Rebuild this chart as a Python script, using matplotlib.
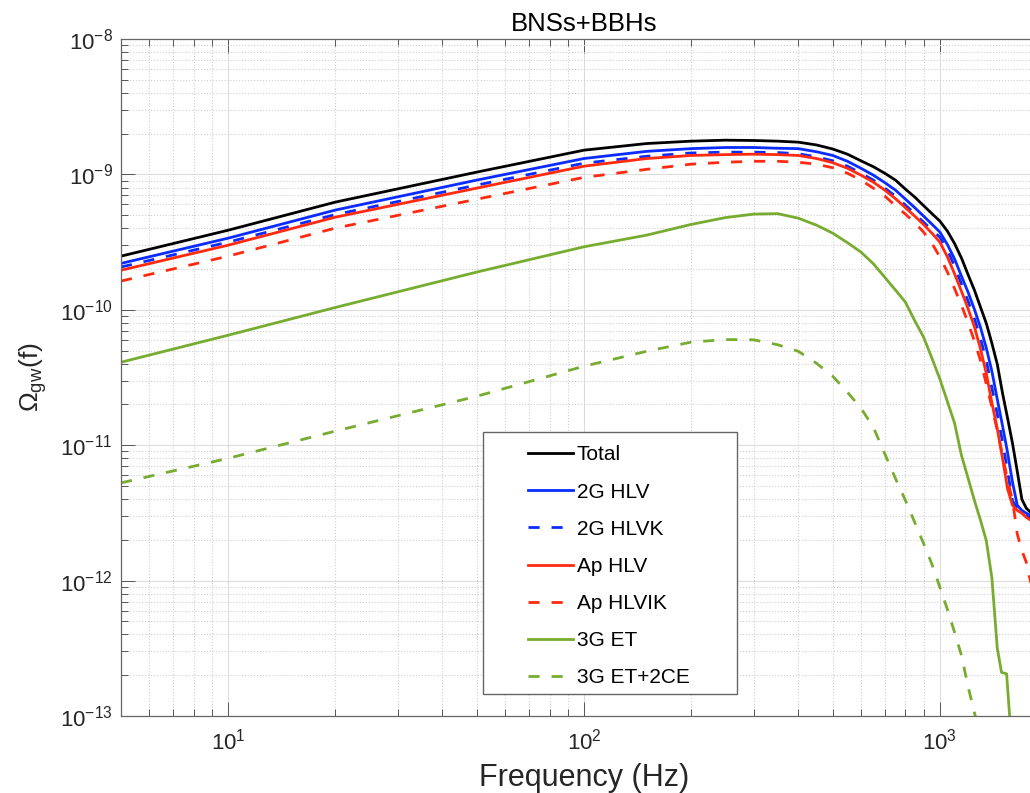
import matplotlib
matplotlib.use('Agg')
import matplotlib.pyplot as plt
from matplotlib.patches import Rectangle

plt.rcParams['font.family'] = ['Liberation Sans', 'DejaVu Sans']
plt.rcParams['mathtext.fontset'] = 'custom'
plt.rcParams['mathtext.rm'] = 'Liberation Sans'
plt.rcParams['mathtext.it'] = 'Liberation Sans:italic'
plt.rcParams['axes.unicode_minus'] = False

# values: frequency (Hz) and Omega_gw
freq = [5, 10, 20, 50, 100, 150, 200, 250, 300, 350, 400, 450, 500, 550, 600, 650, 700, 750,
        800, 850, 900, 950, 1000, 1050, 1100, 1150, 1200, 1250, 1300, 1350, 1400, 1450, 1500,
        1550, 1600, 1650, 1700, 1750, 1800, 2000]

total = [2.49e-10, 3.87e-10, 6.24e-10, 1.04e-9, 1.51e-9, 1.69e-9, 1.76e-9, 1.79e-9,
         1.78e-9, 1.76e-9, 1.73e-9, 1.65e-9, 1.54e-9, 1.41e-9, 1.26e-9, 1.14e-9, 1.02e-9,
         9.08e-10, 7.79e-10, 6.80e-10, 5.88e-10, 5.13e-10, 4.52e-10, 3.81e-10, 3.08e-10,
         2.41e-10, 1.82e-10, 1.40e-10, 1.05e-10, 7.96e-11, 5.66e-11, 3.96e-11, 2.42e-11,
         1.58e-11, 1.03e-11, 6.41e-12, 3.98e-12, 3.42e-12, 3.19e-12, 2.79e-12]
hlv_2g = [2.20e-10, 3.38e-10, 5.45e-10, 9.08e-10, 1.31e-9, 1.48e-9, 1.55e-9, 1.58e-9,
          1.58e-9, 1.56e-9, 1.55e-9, 1.47e-9, 1.38e-9, 1.25e-9, 1.11e-9, 9.88e-10, 8.70e-10,
          7.66e-10, 6.57e-10, 5.68e-10, 4.92e-10, 4.29e-10, 3.75e-10, 3.03e-10, 2.37e-10,
          1.77e-10, 1.35e-10, 1.01e-10, 7.44e-11, 5.24e-11, 3.52e-11, 2.18e-11, 1.39e-11,
          8.79e-12, 5.32e-12, 3.60e-12, 3.30e-12, 3.14e-12, 3.03e-12, 2.56e-12]
hlvk_2g = [2.07e-10, 3.16e-10, 5.05e-10, 8.34e-10, 1.21e-9, 1.36e-9, 1.44e-9, 1.46e-9,
           1.46e-9, 1.45e-9, 1.42e-9, 1.35e-9, 1.26e-9, 1.15e-9, 1.02e-9, 9.08e-10, 7.92e-10,
           6.91e-10, 5.93e-10, 5.13e-10, 4.44e-10, 3.88e-10, 3.44e-10, 2.76e-10, 2.10e-10,
           1.55e-10, 1.16e-10, 8.67e-11, 6.17e-11, 4.24e-11, 2.66e-11, 1.69e-11, 1.06e-11,
           6.41e-12, 3.88e-12, 3.42e-12, 3.19e-12, 3.03e-12, 2.88e-12, 2.43e-12]
hlv_ap = [1.96e-10, 3.00e-10, 4.83e-10, 7.92e-10, 1.15e-9, 1.31e-9, 1.38e-9, 1.40e-9,
          1.41e-9, 1.40e-9, 1.38e-9, 1.31e-9, 1.22e-9, 1.11e-9, 9.88e-10, 8.77e-10, 7.66e-10,
          6.62e-10, 5.68e-10, 4.92e-10, 4.26e-10, 3.68e-10, 3.16e-10, 2.46e-10, 1.84e-10,
          1.37e-10, 1.02e-10, 7.51e-11, 5.17e-11, 3.40e-11, 2.06e-11, 1.32e-11, 8.00e-12,
          4.75e-12, 3.60e-12, 3.30e-12, 3.14e-12, 2.93e-12, 2.79e-12, 2.35e-12]
hlvik_ap = [1.63e-10, 2.49e-10, 4.01e-10, 6.56e-10, 9.51e-10, 1.09e-9, 1.19e-9, 1.23e-9,
            1.25e-9, 1.25e-9, 1.23e-9, 1.19e-9, 1.12e-9, 1.02e-9, 9.08e-10, 7.92e-10, 6.91e-10,
            5.88e-10, 5.09e-10, 4.40e-10, 3.75e-10, 3.10e-10, 2.45e-10, 1.90e-10, 1.43e-10,
            1.08e-10, 8.01e-11, 5.90e-11, 4.24e-11, 2.84e-11, 1.91e-11, 1.29e-11, 8.42e-12,
            5.50e-12, 3.92e-12, 2.21e-12, 1.67e-12, 1.36e-12, 9.70e-13, 7.14e-13]

# third-generation curves
freq_et = [5, 10, 20, 50, 100, 150, 200, 250, 300, 350, 400, 450, 500, 550, 600, 650, 700, 750,
           800, 850, 900, 950, 1000, 1050, 1100, 1150, 1200, 1250, 1300, 1350, 1400, 1450,
           1490, 1540, 1580]
et_3g = [4.10e-11, 6.49e-11, 1.04e-10, 1.90e-10, 2.92e-10, 3.56e-10, 4.27e-10, 4.80e-10, 5.09e-10,
         5.13e-10, 4.75e-10, 4.22e-10, 3.68e-10, 3.13e-10, 2.67e-10, 2.19e-10, 1.74e-10, 1.40e-10,
         1.14e-10, 8.30e-11, 6.28e-11, 4.39e-11, 3.08e-11, 2.10e-11, 1.45e-11, 8.41e-12, 5.71e-12,
         3.92e-12, 2.80e-12, 1.98e-12, 1.05e-12, 3.16e-13, 2.10e-13, 2.05e-13, 8.0e-14]
freq_ce = [5, 10, 20, 50, 100, 150, 200, 250, 300, 350, 400, 450, 500, 550, 600, 650, 700, 750,
           800, 850, 900, 950, 1000, 1050, 1100, 1150, 1200, 1300]
et2ce_3g = [5.27e-12, 8.00e-12, 1.27e-11, 2.30e-11, 3.83e-11, 4.94e-11, 5.77e-11, 6.03e-11, 6.00e-11,
            5.52e-11, 4.94e-11, 4.03e-11, 3.23e-11, 2.46e-11, 1.88e-11, 1.36e-11, 8.65e-12, 5.69e-12,
            3.92e-12, 2.69e-12, 1.88e-12, 1.32e-12, 8.93e-13, 6.12e-13, 4.14e-13, 2.80e-13, 1.65e-13,
            7.0e-14]

labels = ['Total', '2G HLV', '2G HLVK', 'Ap HLV', 'Ap HLVIK', '3G ET', '3G ET+2CE']

green = (0.466, 0.674, 0.188)
curves = [
    (freq, total, 'k', '-'),
    (freq, hlv_2g, '#0a2cff', '-'),
    (freq, hlvk_2g, '#0a2cff', '--'),
    (freq, hlv_ap, '#ff2a10', '-'),
    (freq, hlvik_ap, '#ff2a10', '--'),
    (freq_et, et_3g, green, '-'),
    (freq_ce, et2ce_3g, green, '--'),
]

fig = plt.figure(figsize=(10.3, 7.93), dpi=100)
ax = fig.add_axes([121/1030, 1 - 716/793, 926/1030, 677/793])

for (f, om, c, ls), lab in zip(curves, labels):
    if ls == '--':
        ax.plot(f, om, color=c, lw=2, ls='--', dashes=(4, 4.3), label=lab)
    else:
        ax.plot(f, om, color=c, lw=2, label=lab)

ax.set_xscale('log')
ax.set_yscale('log')
ax.set_xlim(5, 2000)
ax.set_ylim(1e-13, 1e-8)

ax.set_axisbelow(True)
ax.grid(which='major', color='#dcdcdc', lw=0.8)
ax.grid(which='minor', color='#cfcfcf', ls=':', lw=0.8)
ax.tick_params(which='both', direction='in', top=True, right=True,
               labelsize=16, colors='#262626')
ax.tick_params(which='major', length=10, width=0.7, color='#555555')
ax.tick_params(axis='y', which='major', pad=6)
ax.tick_params(axis='x', which='major', pad=9)
ax.tick_params(which='minor', length=5, width=0.7, color='#555555')
for s in ax.spines.values():
    s.set_color('#666666')
    s.set_linewidth(0.9)

ax.set_xlabel('Frequency (Hz)', fontsize=22, color='#262626', labelpad=6)
ax.set_ylabel(r'$\mathrm{\Omega_{gw}}$(f)', fontsize=19, color='#262626', labelpad=8)
ax.set_title('BNSs+BBHs', fontsize=18.5, color='#000000', pad=6)

# legend box drawn like the MATLAB one
ax.add_patch(Rectangle((483/1030, 1 - 694/793), 254/1030, 262/793,
                       transform=fig.transFigure, facecolor='white',
                       edgecolor='#666666', lw=1, zorder=4))
ax.legend(loc='upper left', bbox_to_anchor=(528/1030, 1 - 445.5/793),
          bbox_transform=fig.transFigure, frameon=False, fontsize=15,
          handlelength=2.16, handletextpad=0.19, labelspacing=0.87,
          borderpad=0, borderaxespad=0)

fig.savefig('out.png', dpi=100)
